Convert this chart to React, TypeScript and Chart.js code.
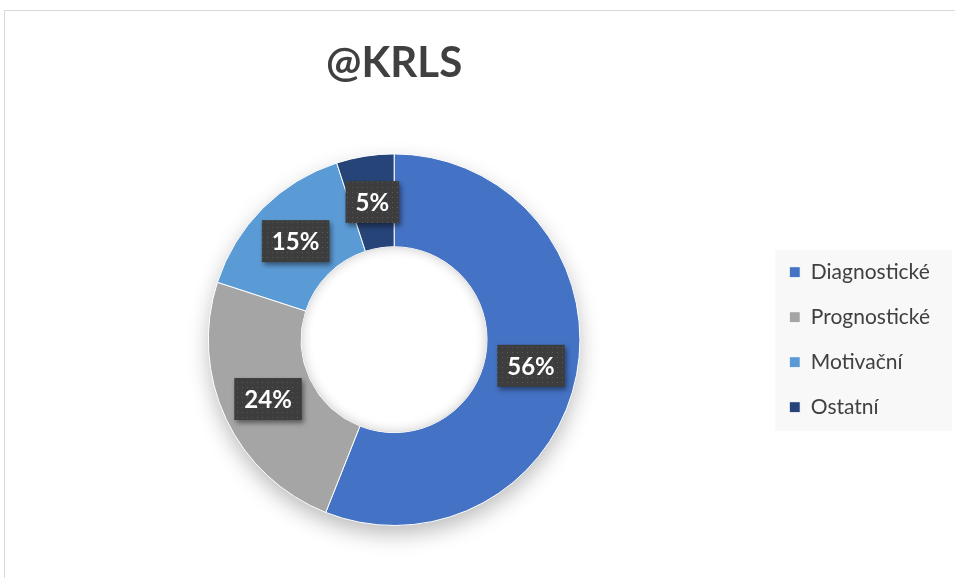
import React, { useEffect, useRef } from "react";
import { Chart, registerables } from "chart.js";

Chart.register(...registerables);

const chartTitle = "@KRLS";
const categories = ["Diagnostické", "Prognostické", "Motivační", "Ostatní"];
const shares = [56, 24, 15, 5];
const sliceColors = ["#4472C4", "#A5A5A5", "#5B9BD5", "#264478"];

function makePattern(ctx: CanvasRenderingContext2D) {
  const c = document.createElement("canvas");
  c.width = 5;
  c.height = 5;
  const p = c.getContext("2d")!;
  p.fillStyle = "#3d3d3d";
  p.fillRect(0, 0, 5, 5);
  p.fillStyle = "#5a5a5a";
  p.fillRect(2, 2, 1, 1);
  return ctx.createPattern(c, "repeat");
}

const shadowPlugin = {
  id: "donutShadow",
  beforeDatasetsDraw(chart: any) {
    const arc = chart.getDatasetMeta(0).data[0];
    if (!arc) return;
    const { x, y, outerRadius } = arc.getProps(["x", "y", "outerRadius"], true);
    const ctx = chart.ctx;
    ctx.save();
    ctx.shadowColor = "rgba(0,0,0,0.28)";
    ctx.shadowBlur = 22;
    ctx.shadowOffsetY = 9;
    ctx.beginPath();
    ctx.arc(x, y, outerRadius - 1, 0, Math.PI * 2);
    ctx.fillStyle = "#ffffff";
    ctx.fill();
    ctx.restore();
  },
};

const holeShadowPlugin = {
  id: "holeShadow",
  afterDatasetsDraw(chart: any) {
    const arc = chart.getDatasetMeta(0).data[0];
    if (!arc) return;
    const { x, y, innerRadius } = arc.getProps(["x", "y", "innerRadius"], true);
    const ctx = chart.ctx;
    ctx.save();
    ctx.beginPath();
    ctx.arc(x, y, innerRadius, 0, Math.PI * 2);
    ctx.clip();
    ctx.shadowColor = "rgba(0,0,0,0.22)";
    ctx.shadowBlur = 12;
    ctx.beginPath();
    ctx.arc(x, y, innerRadius + 40, 0, Math.PI * 2);
    ctx.arc(x, y, innerRadius, 0, Math.PI * 2, true);
    ctx.fillStyle = "#ffffff";
    ctx.fill();
    ctx.restore();
  },
};

const labelPlugin = {
  id: "boxLabels",
  afterDatasetsDraw(chart: any) {
    const ctx = chart.ctx;
    const meta = chart.getDatasetMeta(0);
    const pattern = makePattern(ctx);
    ctx.save();
    ctx.font = "bold 24px Lato";
    ctx.textAlign = "center";
    ctx.textBaseline = "middle";
    meta.data.forEach((arc: any, i: number) => {
      const pos = arc.tooltipPosition(true);
      const text = shares[i] + "%";
      const w = ctx.measureText(text).width + 20;
      const h = 42;
      ctx.save();
      ctx.shadowColor = "rgba(0,0,0,0.45)";
      ctx.shadowBlur = 5;
      ctx.shadowOffsetX = 2;
      ctx.shadowOffsetY = 3;
      ctx.fillStyle = pattern || "#3d3d3d";
      ctx.fillRect(pos.x - w / 2, pos.y - h / 2, w, h);
      ctx.restore();
      ctx.fillStyle = "#ffffff";
      ctx.fillText(text, pos.x, pos.y + 1);
    });
    ctx.restore();
  },
};

const legendBgPlugin = {
  id: "legendBg",
  beforeDraw(chart: any) {
    const boxes = chart.legend && chart.legend.legendHitBoxes;
    if (!boxes || !boxes.length) return;
    const first = boxes[0];
    const last = boxes[boxes.length - 1];
    const ctx = chart.ctx;
    const left = first.left - 14;
    const top = first.top - 12;
    const bottom = last.top + last.height + 13;
    ctx.save();
    ctx.fillStyle = "#f8f8f8";
    ctx.fillRect(left, top, 952 - left, bottom - top);
    ctx.restore();
  },
};

export default function App() {
  const canvasRef = useRef<HTMLCanvasElement | null>(null);

  useEffect(() => {
    const canvas = canvasRef.current;
    if (!canvas) return;
    const chart = new Chart(canvas, {
      type: "doughnut",
      data: {
        labels: categories,
        datasets: [
          {
            data: shares,
            backgroundColor: sliceColors,
            borderColor: "#ffffff",
            borderWidth: 1,
            hoverOffset: 0,
          },
        ],
      },
      options: {
        responsive: false,
        animation: false,
        devicePixelRatio: 1,
        events: [],
        cutout: "50%",
        layout: { padding: { left: 23, right: 15, top: 0, bottom: 52 } },
        plugins: {
          title: {
            display: true,
            text: chartTitle,
            fullSize: false,
            color: "#404040",
            font: { family: "Lato", size: 42, weight: "bold" },
            padding: { top: 38, bottom: 65 },
          },
          legend: {
            display: true,
            position: "right",
            fullSize: false,
            align: "center",
            labels: {
              boxWidth: 11,
              boxHeight: 11,
              padding: 24,
              color: "#404040",
              font: { family: "Lato", size: 21 },
            },
          },
          tooltip: { enabled: false },
        },
      },
      plugins: [legendBgPlugin, shadowPlugin, holeShadowPlugin, labelPlugin],
    });
    return () => chart.destroy();
  }, []);

  return (
    <div
      style={{
        position: "fixed",
        left: 0,
        top: 0,
        width: 955,
        height: 578,
        background: "#ffffff",
        overflow: "hidden",
      }}
    >
      <div
        style={{
          position: "absolute",
          left: 4,
          top: 10,
          width: 1000,
          height: 1000,
          border: "1px solid #d9d9d9",
        }}
      />
      <canvas
        ref={canvasRef}
        width={955}
        height={578}
        style={{ position: "absolute", left: 0, top: 0, width: 955, height: 578 }}
      />
    </div>
  );
}
